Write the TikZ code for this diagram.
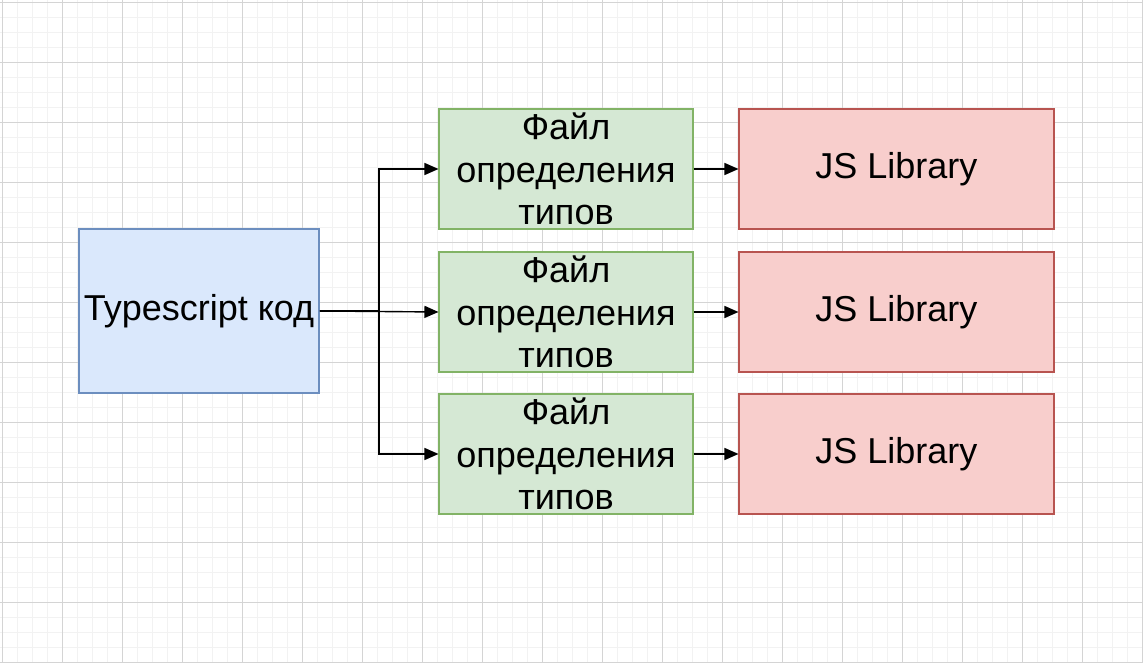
\documentclass[tikz,border=0pt]{standalone}
\usepackage{fontspec}
\setmainfont{Liberation Sans}
\usetikzlibrary{arrows.meta}
\definecolor{bluefill}{HTML}{DAE8FC}
\definecolor{blueline}{HTML}{6C8EBF}
\definecolor{greenfill}{HTML}{D5E8D4}
\definecolor{greenline}{HTML}{82B366}
\definecolor{redfill}{HTML}{F8CECC}
\definecolor{redline}{HTML}{B85450}
\begin{document}
\begin{tikzpicture}[x=1pt,y=-1pt,
  box/.style={draw, line width=1.1pt, inner sep=0pt, align=center,
    font=\fontsize{36}{42.5}\selectfont},
  codebox/.style={box, fill=bluefill, draw=blueline, minimum width=240pt, minimum height=164pt},
  typebox/.style={box, fill=greenfill, draw=greenline, minimum width=254pt, minimum height=120pt},
  libbox/.style={box, fill=redfill, draw=redline, minimum width=315pt, minimum height=120pt},
  link/.style={line width=1.4pt, -{Triangle[length=14pt,width=12pt]}}]
\useasboundingbox (0,0) rectangle (1143,663);
\fill[white] (0,0) rectangle (1143,663);
% grid
\foreach \i in {2,17,...,1142} \draw[black!5, line width=0.8pt] (\i,0) -- (\i,663);
\foreach \i in {2,17,...,662} \draw[black!5, line width=0.8pt] (0,\i) -- (1143,\i);
\foreach \i in {2,62,...,1142} \draw[black!17, line width=0.8pt] (\i,0) -- (\i,663);
\foreach \i in {2,62,...,662} \draw[black!17, line width=0.8pt] (0,\i) -- (1143,\i);
% boxes
\node[codebox] (code) at (199,311) {Typescript код};
\node[typebox] (def1) at (566,169) {Файл\\определения\\типов};
\node[typebox] (def2) at (566,312) {Файл\\определения\\типов};
\node[typebox] (def3) at (566,454) {Файл\\определения\\типов};
\node[libbox] (lib1) at (896.5,169) {JS Library};
\node[libbox] (lib2) at (896.5,312) {JS Library};
\node[libbox] (lib3) at (896.5,454) {JS Library};
% arrows
\draw[link] (code.east) -- (379,311) |- (def1.west);
\draw[link] (code.east) -- (def2.west);
\draw[link] (code.east) -- (379,311) |- (def3.west);
\draw[link] (def1.east) -- (lib1.west);
\draw[link] (def2.east) -- (lib2.west);
\draw[link] (def3.east) -- (lib3.west);
\end{tikzpicture}
\end{document}
